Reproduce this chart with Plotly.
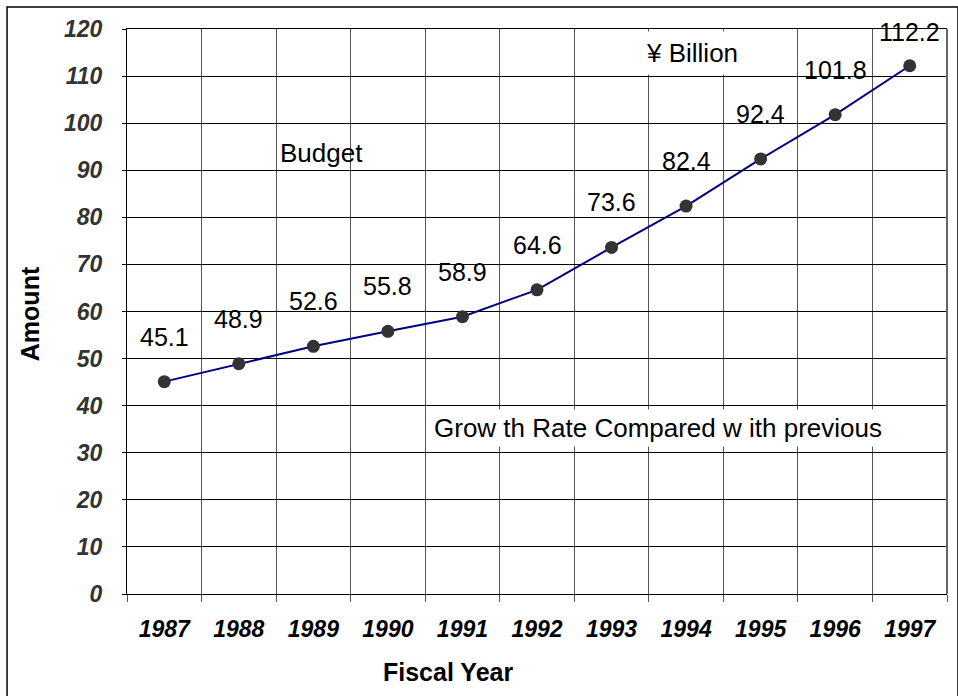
import plotly.graph_objects as go

years = ["1987", "1988", "1989", "1990", "1991", "1992", "1993", "1994", "1995", "1996", "1997"]
amounts = [45.1, 48.9, 52.6, 55.8, 58.9, 64.6, 73.6, 82.4, 92.4, 101.8, 112.2]
y_ticks = list(range(0, 121, 10))

FONT = "Liberation Sans, Arial, sans-serif"

fig = go.Figure()
fig.add_trace(go.Scatter(
    x=years, y=amounts, mode="lines+markers",
    line=dict(color="#000080", width=2),
    marker=dict(color="#333333", size=13),
    hoverinfo="skip", showlegend=False,
))

annotations = []
for i, v in enumerate(amounts):
    annotations.append(dict(
        x=i, y=v, xref="x", yref="y", text=f"{v}", showarrow=False,
        xanchor="center", yanchor="middle",
        yshift=34 if i == len(amounts) - 1 else 45,
        font=dict(family=FONT, size=25, color="black"),
    ))

def note(x, y, text, **kw):
    d = dict(x=x, y=y, xref="paper", yref="paper", text=text, showarrow=False,
             xanchor="center", yanchor="middle")
    d.update(kw)
    return d

annotations += [
    note(0.2378, 0.7805, "Budget", font=dict(family=FONT, size=26, color="black")),
    note(0.689, 0.9575, "¥ Billion", bgcolor="white", borderpad=6,
         font=dict(family=FONT, size=26, color="black")),
    note(0.6476, 0.2938, "Grow th Rate Compared w ith previous", bgcolor="white", borderpad=3,
         font=dict(family=FONT, size=26, color="black")),
    note(0.3915, -0.138, "Fiscal Year",
         font=dict(family=FONT, size=25, color="black", weight="bold")),
    note(-0.1183, 0.497, "Amount", textangle=-90,
         font=dict(family=FONT, size=25, color="black", weight="bold")),
]

fig.update_layout(
    width=958, height=696,
    margin=dict(l=127, r=11, t=29, b=102),
    paper_bgcolor="white", plot_bgcolor="white",
    annotations=annotations,
    shapes=[
        dict(type="rect", xref="paper", yref="paper",
             x0=-0.1463, x1=1.0134, y0=-0.184, y1=1.0389,
             line=dict(color="black", width=1.5), layer="below"),
        dict(type="line", xref="paper", yref="paper", x0=1, x1=1, y0=0, y1=1,
             line=dict(color="#666666", width=2)),
    ],
)

fig.update_xaxes(
    type="category", range=[-0.5, 10.5],
    tickson="boundaries", showgrid=True, gridcolor="#555555", gridwidth=1.3,
    ticks="outside", ticklen=7, tickcolor="#555555", tickwidth=1.3,
    showline=True, linecolor="black", linewidth=1, mirror=True,
    tickfont=dict(family=FONT, size=23, color="black", weight="bold", style="italic"),
    ticklabelstandoff=14,
)
fig.update_yaxes(
    range=[0, 120], tickvals=y_ticks,
    showgrid=True, gridcolor="black", gridwidth=1,
    ticks="outside", ticklen=4, tickcolor="black",
    showline=True, linecolor="black", linewidth=1,
    zeroline=False,
    tickfont=dict(family=FONT, size=23, color="#333333", weight="bold", style="italic"),
    ticklabelstandoff=15,
)

fig.write_html("out.html", config={"displayModeBar": False},
               post_script="document.body.style.margin='0px';document.body.style.overflow='hidden';")
